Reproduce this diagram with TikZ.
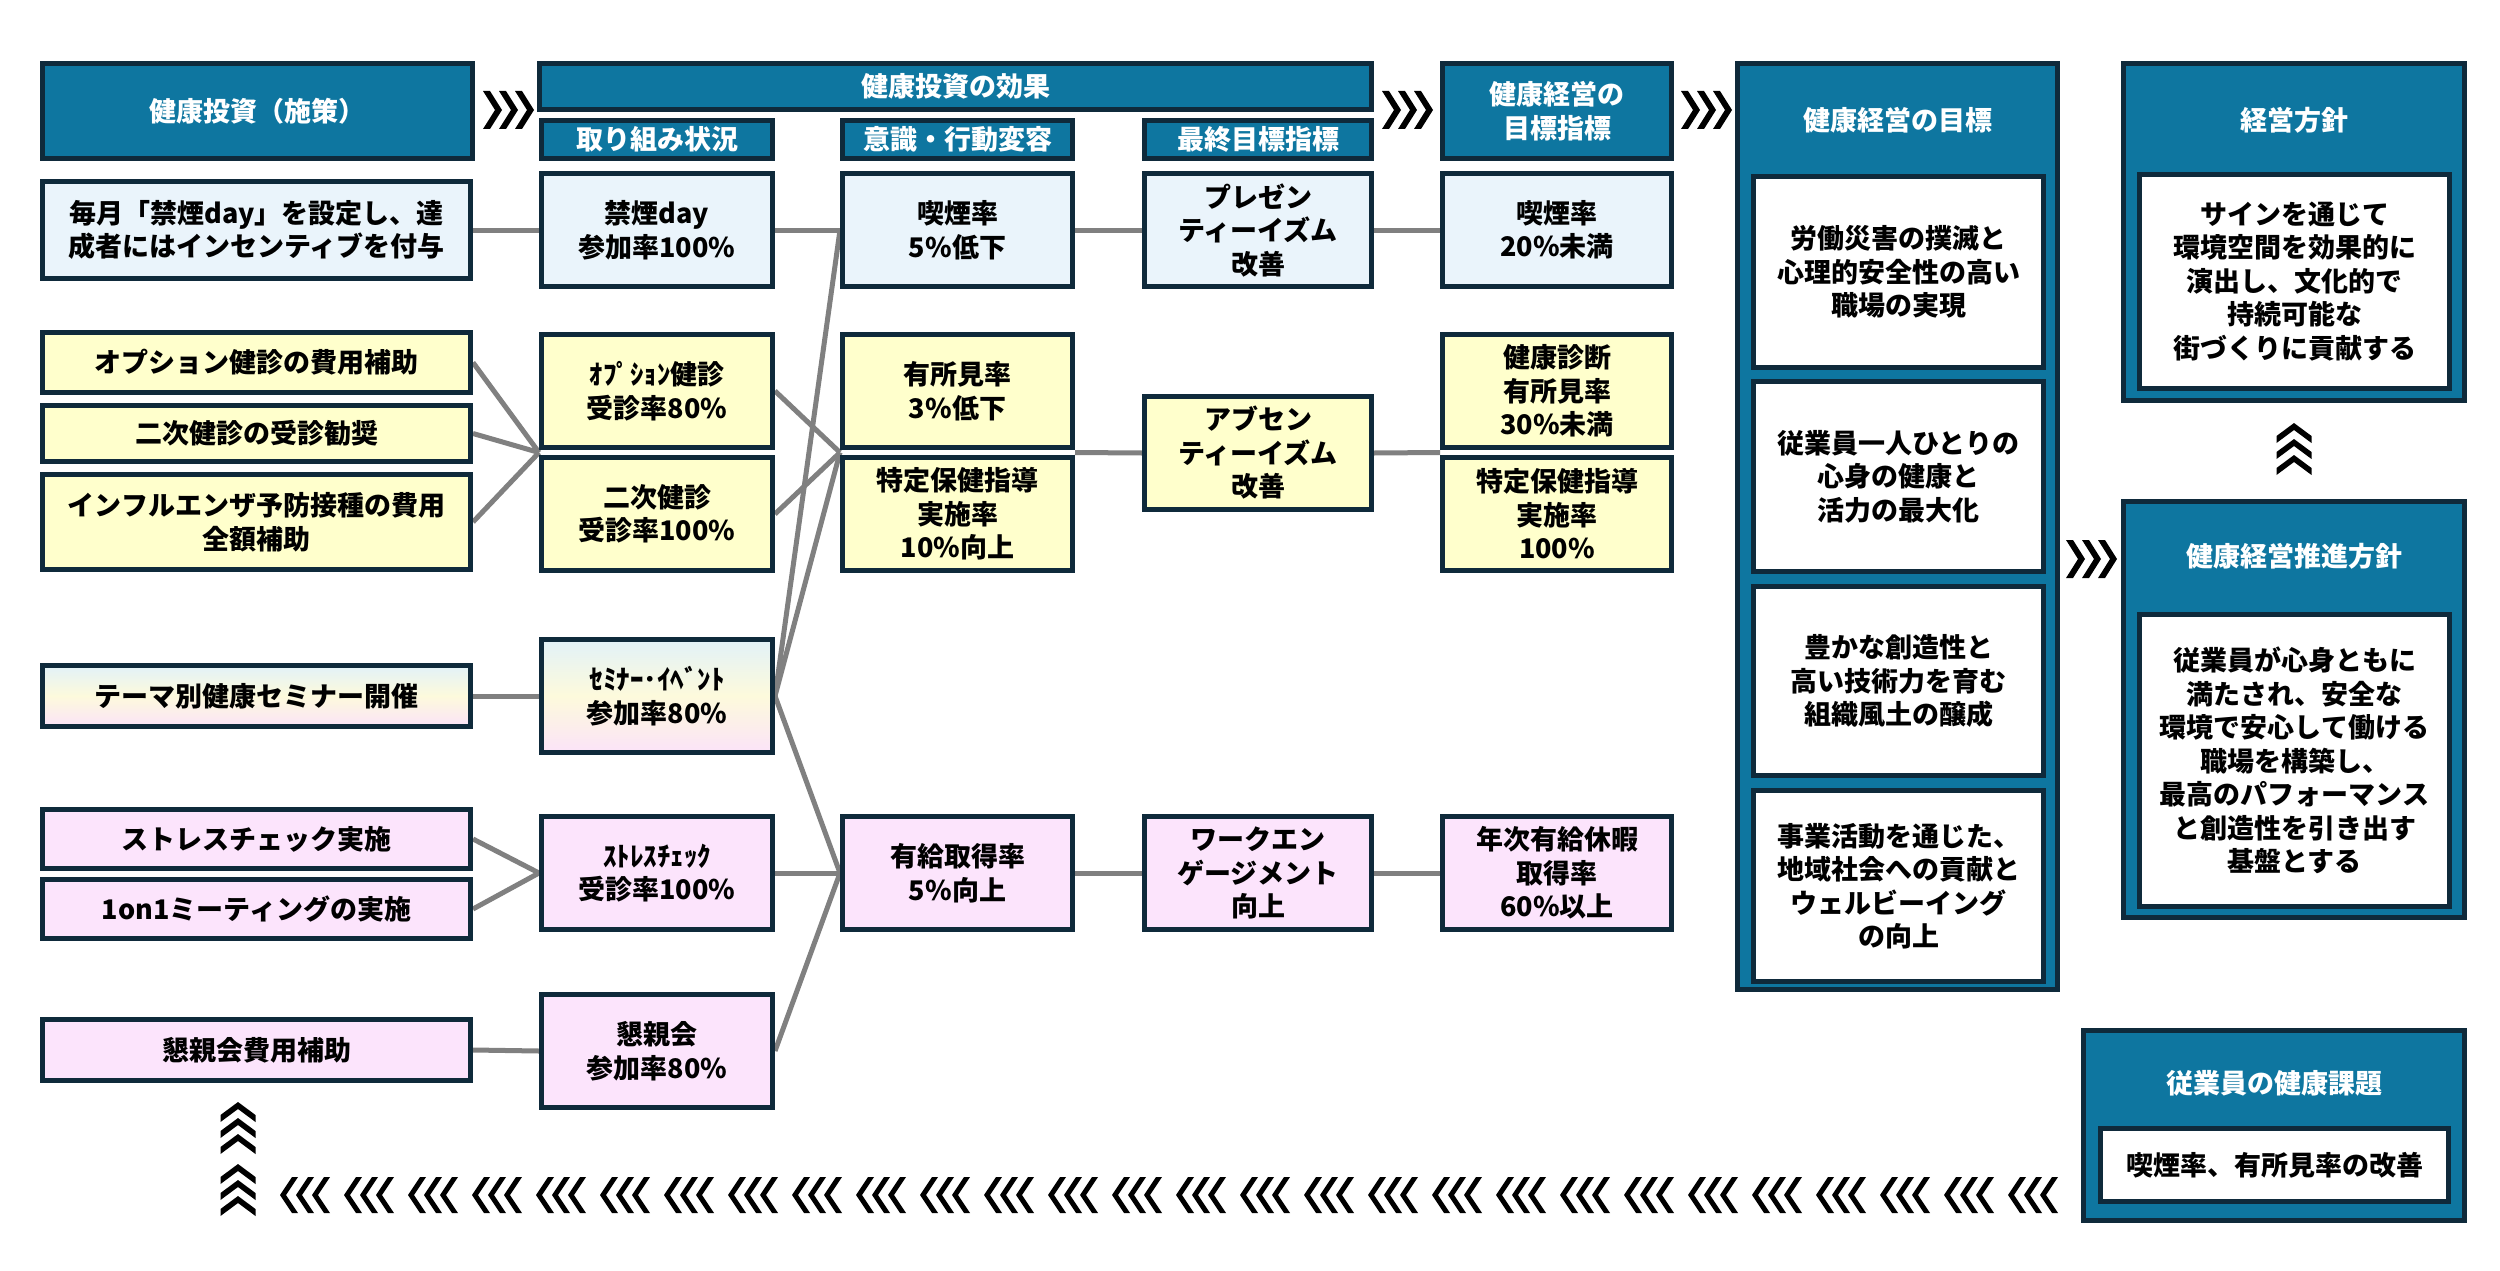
\documentclass[tikz,border=0pt]{standalone}
\usepackage{fontspec}
\setmainfont{Noto Sans CJK JP}
\usetikzlibrary{backgrounds,calc}
\definecolor{hdr}{HTML}{0E76A0}
\definecolor{navy}{HTML}{0F2A3B}
\definecolor{lblue}{HTML}{EAF4FB}
\definecolor{lyel}{HTML}{FFFFCC}
\definecolor{lpink}{HTML}{FCE4FC}
\definecolor{conn}{HTML}{808080}
\definecolor{gtop}{HTML}{E2F2F8}
\definecolor{gmid}{HTML}{FDFADC}
\definecolor{gbot}{HTML}{FBE3F8}
\begin{document}
\begin{tikzpicture}[x=1pt,y=-1pt,
  base/.style={draw=navy, line width=5pt, inner sep=0pt, align=center,
    font=\bfseries\fontsize{27}{33.5}\selectfont},
  sz/.style 2 args={minimum width={#1pt-5pt}, minimum height={#2pt-5pt}},
  hdrbox/.style={base, fill=hdr, text=white},
  bluebox/.style={base, fill=lblue},
  yelbox/.style={base, fill=lyel},
  pinkbox/.style={base, fill=lpink},
  gradbox/.style={base, top color=gtop, bottom color=gbot, middle color=gmid},
  whitebox/.style={base, fill=white},
  ptitle/.style={inner sep=0pt, text=white, font=\bfseries\fontsize{27}{33.5}\selectfont},
  conline/.style={draw=conn, line width=5pt},
  chevR/.pic={\foreach \k in {0,16,32}
      \fill[black] (\k,-19) -- (\k+7,-19) -- (\k+19,0) -- (\k+7,19) -- (\k,19) -- (\k+12,0) -- cycle;},
  chevU/.pic={\foreach \k in {0,16,32}
      \fill[black] (-17.5,\k+13) -- (0,\k) -- (17.5,\k+13) -- (17.5,\k+20) -- (0,\k+7) -- (-17.5,\k+20) -- cycle;},
  chevL/.pic={\foreach \k in {0,16,32}
      \fill[black] (\k+12,-18) -- (\k+18,-18) -- (\k+6,0) -- (\k+18,18) -- (\k+12,18) -- (\k,0) -- cycle;}
]
\useasboundingbox (0,0) rectangle (2500,1271);

% ---- headers ----
\node[hdrbox, sz={435}{100}] (H1) at (257.5,111) {健康投資（施策）};
\node[hdrbox, sz={837}{51}] (H2) at (955.5,86.5) {健康投資の効果};
\node[hdrbox, sz={236}{43}] (H3) at (657,139.5) {取り組み状況};
\node[hdrbox, sz={235}{43}] (H4) at (957.5,139.5) {意識・行動変容};
\node[hdrbox, sz={232}{43}] (H5) at (1258,139.5) {最終目標指標};
\node[hdrbox, sz={234}{100}] (H6) at (1557,111) {健康経営の\\目標指標};

% ---- column A ----
\node[bluebox, sz={433}{102}] (A1) at (256.5,230) {毎月「禁煙day」を設定し、達\\成者にはインセンティブを付与};
\node[yelbox, sz={433}{65}] (A2) at (256.5,362.5) {オプション健診の費用補助};
\node[yelbox, sz={433}{61}] (A3) at (256.5,433.5) {二次健診の受診勧奨};
\node[yelbox, sz={433}{100}] (A4) at (256.5,522) {インフルエンザ予防接種の費用\\全額補助};
\node[gradbox, sz={433}{66}] (A5) at (256.5,696) {テーマ別健康セミナー開催};
\node[pinkbox, sz={433}{64}] (A6) at (256.5,839) {ストレスチェック実施};
\node[pinkbox, sz={433}{64}] (A7) at (256.5,909) {1on1ミーティングの実施};
\node[pinkbox, sz={433}{66}] (A8) at (256.5,1050) {懇親会費用補助};

% ---- column B ----
\node[bluebox, sz={236}{118}] (B1) at (657,230) {禁煙day\\参加率100\%};
\node[yelbox, sz={236}{118}] (B2) at (657,391) {ｵﾌﾟｼｮﾝ健診\\受診率80\%};
\node[yelbox, sz={236}{118}] (B3) at (657,514) {二次健診\\受診率100\%};
\node[gradbox, sz={236}{118}] (B4) at (657,696) {ｾﾐﾅｰ･ｲﾍﾞﾝﾄ\\参加率80\%};
\node[pinkbox, sz={236}{118}] (B5) at (657,873) {ｽﾄﾚｽﾁｪｯｸ\\受診率100\%};
\node[pinkbox, sz={236}{118}] (B6) at (657,1051) {懇親会\\参加率80\%};

% ---- column C ----
\node[bluebox, sz={235}{118}] (C1) at (957.5,230) {喫煙率\\5\%低下};
\node[yelbox, sz={235}{118}] (C2) at (957.5,391) {有所見率\\3\%低下};
\node[yelbox, sz={235}{118}] (C3) at (957.5,514) {特定保健指導\\実施率\\10\%向上};
\node[pinkbox, sz={235}{118}] (C4) at (957.5,873) {有給取得率\\5\%向上};

% ---- column D ----
\node[bluebox, sz={232}{118}] (D1) at (1258,230) {プレゼン\\ティーイズム\\改善};
\node[yelbox, sz={232}{118}] (D2) at (1258,453) {アブセン\\ティーイズム\\改善};
\node[pinkbox, sz={232}{118}] (D3) at (1258,873) {ワークエン\\ゲージメント\\向上};

% ---- column E ----
\node[bluebox, sz={234}{118}] (E1) at (1557,230) {喫煙率\\20\%未満};
\node[yelbox, sz={234}{118}] (E2) at (1557,391) {健康診断\\有所見率\\30\%未満};
\node[yelbox, sz={234}{118}] (E3) at (1557,514) {特定保健指導\\実施率\\100\%};
\node[pinkbox, sz={234}{118}] (E4) at (1557,873) {年次有給休暇\\取得率\\60\%以上};

% ---- right panels ----
\node[hdrbox, sz={325}{931}] (P1) at (1897.5,526.5) {};
\node[ptitle] (P1t) at (1897.5,120) {健康経営の目標};
\node[whitebox, sz={295}{196}] (I1) at (1898.5,272) {労働災害の撲滅と\\心理的安全性の高い\\職場の実現};
\node[whitebox, sz={295}{195}] (I2) at (1898.5,476.5) {従業員一人ひとりの\\心身の健康と\\活力の最大化};
\node[whitebox, sz={295}{194}] (I3) at (1898.5,681) {豊かな創造性と\\高い技術力を育む\\組織風土の醸成};
\node[whitebox, sz={295}{196}] (I4) at (1898.5,886) {事業活動を通じた、\\地域社会への貢献と\\ウェルビーイング\\の向上};

\node[hdrbox, sz={346}{342}] (P2) at (2294,232) {};
\node[ptitle] (P2t) at (2294,120) {経営方針};
\node[whitebox, sz={315}{219}] (I5) at (2294.5,281.5) {サインを通じて\\環境空間を効果的に\\演出し、文化的で\\持続可能な\\街づくりに貢献する};

\node[hdrbox, sz={346}{421}] (P3) at (2294,709.5) {};
\node[ptitle] (P3t) at (2294,556) {健康経営推進方針};
\node[whitebox, sz={315}{297}] (I6) at (2294.5,760.5) {従業員が心身ともに\\満たされ、安全な\\環境で安心して働ける\\職場を構築し、\\最高のパフォーマンス\\と創造性を引き出す\\基盤とする};

\node[hdrbox, sz={386}{195}] (P4) at (2274,1125.5) {};
\node[ptitle] (P4t) at (2274,1083) {従業員の健康課題};
\node[whitebox, sz={353}{78}] (I7) at (2274.5,1165) {喫煙率、有所見率の改善};

% ---- chevrons ----
\pic at (483,110) {chevR};
\pic at (1382,110) {chevR};
\pic at (1681,110) {chevR};
\pic at (2066,559) {chevR};
\pic at (2294,423) {chevU};
\pic at (238,1102) {chevU};
\pic at (238,1164) {chevU};
\foreach \i in {0,...,27} \pic at ({280+64*\i},1195) {chevL};

% ---- junctions ----
\coordinate (jL) at (539,452.5);
\coordinate (jM) at (840,452.5);
\coordinate (jR) at (1075,452.5);
\coordinate (jE) at (1440,452.5);

% ---- connectors ----
\begin{scope}[on background layer]
\fill[white] (0,0) rectangle (2500,1271);
\draw[conline] (A1.east) -- (B1.west);
\draw[conline] (A2.east) -- (jL);
\draw[conline] (A3.east) -- (jL);
\draw[conline] (A4.east) -- (jL);
\draw[conline] (A5.east) -- (B4.west);
\draw[conline] (A6.east) -- (B5.west);
\draw[conline] (A7.east) -- (B5.west);
\draw[conline] (A8.east) -- (B6.west);
\draw[conline] (B1.east) -- (C1.west);
\draw[conline] (B4.east) -- (C1.west);
\draw[conline] (B2.east) -- (jM);
\draw[conline] (B3.east) -- (jM);
\draw[conline] (B4.east) -- (jM);
\draw[conline] (B5.east) -- (C4.west);
\draw[conline] (B4.east) -- (C4.west);
\draw[conline] (B6.east) -- (C4.west);
\draw[conline] (C1.east) -- (D1.west);
\draw[conline] (D1.east) -- (E1.west);
\draw[conline] (jR) -- (D2.west);
\draw[conline] (D2.east) -- (jE);
\draw[conline] (C4.east) -- (D3.west);
\draw[conline] (D3.east) -- (E4.west);
\end{scope}
\end{tikzpicture}
\end{document}
